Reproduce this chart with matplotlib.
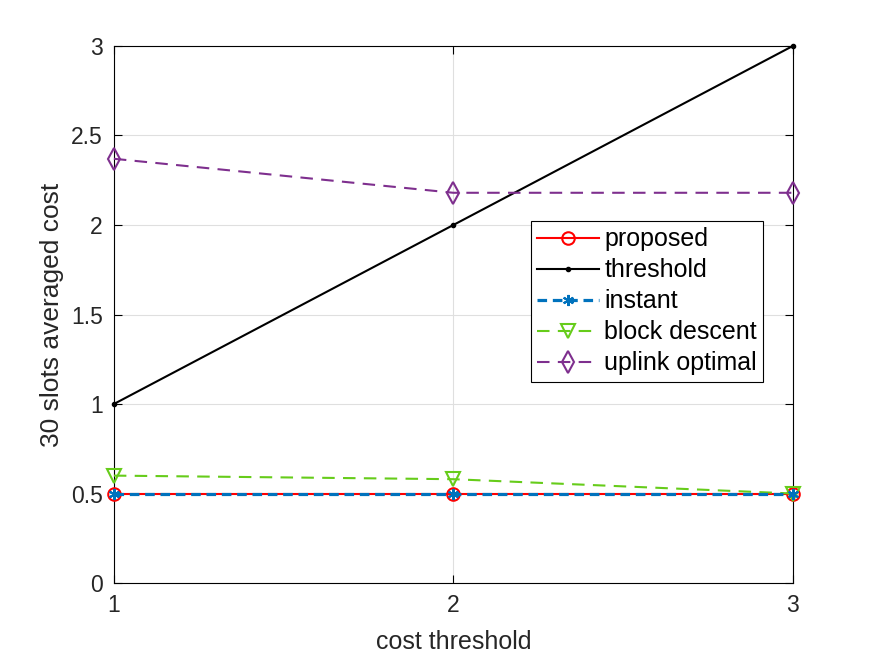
import matplotlib
matplotlib.use("Agg")
import matplotlib.pyplot as plt

x = [1, 2, 3]
proposed = [0.5, 0.5, 0.5]
threshold = [1, 2, 3]
instant = [0.5, 0.5, 0.5]
block_descent = [0.6, 0.58, 0.5]
uplink_optimal = [2.37, 2.18, 2.18]
xticks = [1, 2, 3]
yticks = [0, 0.5, 1, 1.5, 2, 2.5, 3]
yticklabels = ["0", "0.5", "1", "1.5", "2", "2.5", "3"]

plt.rcParams['font.family'] = ['Liberation Sans', 'DejaVu Sans']
tc = '#262626'

fig = plt.figure(figsize=(8.76, 6.57), dpi=100)
ax = fig.add_axes([0.130, 0.1126, 0.775, 0.8174])

ax.plot(x, proposed, '-o', color='#FF0000', lw=1.5, ms=9, mfc='none', mew=1.5, label='proposed', zorder=3, clip_on=False)
ax.plot(x, threshold, '-', marker='.', color='black', lw=1.5, ms=6, label='threshold', zorder=3, clip_on=False)
ax.plot(x, instant, '--', marker=(6, 2, 0), color='#0072BD', lw=2.3, ms=8, mew=1.5, dashes=(3, 1.8), label='instant', zorder=4, clip_on=False)
ax.plot(x, block_descent, '--', marker='v', color='#66CC1A', lw=1.5, ms=10, mfc='none', mew=1.5, dashes=(6, 4), label='block descent', zorder=3, clip_on=False)
ax.plot(x, uplink_optimal, '--', marker='d', color='#7E2F8E', lw=1.5, ms=11, mfc='none', mew=1.5, dashes=(6, 4), label='uplink optimal', zorder=3, clip_on=False)

ax.set_xlim(1, 3)
ax.set_ylim(0, 3)
ax.set_xticks(xticks)
ax.set_xticklabels([str(t) for t in xticks])
ax.set_yticks(yticks)
ax.set_yticklabels(yticklabels)
ax.grid(True, color='#DFDFDF', lw=0.8)
ax.set_axisbelow(True)
ax.tick_params(direction='in', length=6, width=0.8, labelsize=16.5, top=True, right=True, pad=8, labelcolor=tc)
for s in ax.spines.values():
    s.set_linewidth(0.8)
ax.set_xlabel('cost threshold', fontsize=18, labelpad=9, color=tc)
ax.set_ylabel('30 slots averaged cost', fontsize=19, labelpad=5, color=tc)

leg = ax.legend(loc='upper left', bbox_to_anchor=(0.614, 0.674), fontsize=18,
                frameon=True, fancybox=False, edgecolor='black', framealpha=1,
                handlelength=2.5, handletextpad=0.2, labelspacing=0.28, borderpad=0.25,
                borderaxespad=0)
leg.get_frame().set_linewidth(0.8)
for t in leg.get_texts():
    t.set_color('black')

fig.savefig('out.png', dpi=100)
